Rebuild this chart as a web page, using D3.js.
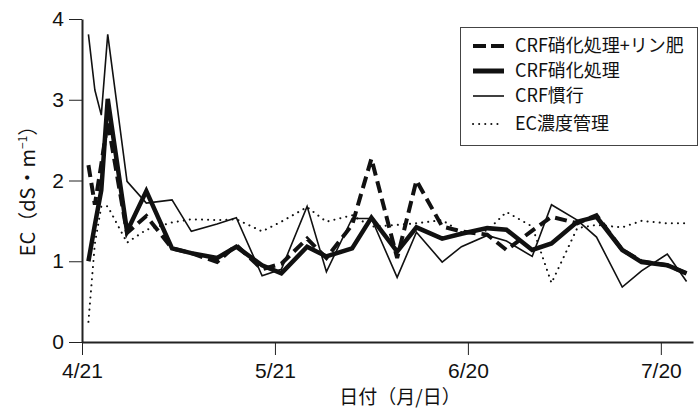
<!DOCTYPE html>
<html>
<head>
<meta charset="utf-8">
<script src="https://cdn.jsdelivr.net/npm/d3@7"></script>
<style>
body { margin: 0; background: #fff; }
text { fill: #111; }
</style>
</head>
<body>
<script>
// sampling dates (2011 assumed, only month/day shown)
const dates = ["4/22","4/23","4/24","4/25","4/28","5/1","5/5","5/8","5/12","5/15",
  "5/19","5/22","5/26","5/29","6/2","6/5","6/9","6/12","6/16","6/19",
  "6/23","6/26","6/30","7/3","7/7","7/10","7/14","7/17","7/21","7/24"];

const crfPhos = [2.19,1.70,2.20,2.73,1.35,1.56,1.16,1.10,0.99,1.20,
  0.90,0.97,1.28,1.04,1.45,2.27,1.04,2.00,1.43,1.37,
  1.33,1.14,1.38,1.55,1.47,1.57,1.14,1.00,0.95,0.85];
const crfNitr = [1.00,1.45,1.88,3.01,1.37,1.87,1.16,1.10,1.04,1.18,
  0.95,0.85,1.18,1.06,1.16,1.54,1.12,1.42,1.28,1.34,
  1.41,1.39,1.14,1.22,1.49,1.55,1.14,0.99,0.95,0.85];
const crfConv = [3.81,3.12,2.81,3.81,1.99,1.72,1.76,1.37,1.46,1.54,
  0.82,0.90,1.68,0.87,1.53,1.53,0.80,1.36,0.99,1.18,
  1.32,1.25,1.06,1.70,1.51,1.30,0.68,0.88,1.09,0.75];
const ecCtrl = [0.25,1.22,1.68,1.68,1.23,1.39,1.48,1.52,1.51,1.52,
  1.37,1.49,1.67,1.49,1.57,1.43,1.45,1.47,1.51,1.36,
  1.38,1.61,1.43,0.73,1.41,1.45,1.42,1.50,1.47,1.47];

const seriesNames = ["CRF硝化処理+リン肥","CRF硝化処理","CRF慣行","EC濃度管理"];
const xTickLabels = ["4/21","5/21","6/20","7/20"];
const yTicks = [0,1,2,3,4];

let width = 700, height = 412;
let parse = d3.timeParse("%Y/%m/%d");
let day = s => parse("2011/" + s);

let svg = d3.select("body").append("svg").attr("width", width).attr("height", height);

let x = d3.scaleTime().domain([day("4/21"), day("7/25")]).range([82, 693]);
let y = d3.scaleLinear().domain([0, 4]).range([342, 19]);

let tickFont = "'Liberation Sans', Arial, sans-serif";
let jpFont = "'Noto Sans CJK JP', sans-serif";

// x axis
let xAxis = svg.append("g").attr("transform", "translate(0," + y(0) + ")")
  .call(d3.axisBottom(x).tickValues(xTickLabels.map(day)).tickFormat(d3.timeFormat("%-m/%-d"))
    .tickSize(13).tickSizeOuter(0));
xAxis.select(".domain").attr("stroke", "#222").attr("stroke-width", 2);
xAxis.selectAll(".tick line").attr("stroke", "#222").attr("stroke-width", 1);
xAxis.selectAll(".tick text").attr("font-family", tickFont).attr("font-size", 21).attr("dy", "0.95em").attr("fill", "#111");

// y axis
let yAxis = svg.append("g").attr("transform", "translate(" + x(day("4/21")) + ",0)")
  .call(d3.axisLeft(y).tickValues(yTicks).tickFormat(d3.format("d")).tickSize(13).tickSizeOuter(0));
yAxis.select(".domain").attr("stroke", "#222").attr("stroke-width", 2);
yAxis.selectAll(".tick line").attr("stroke", "#222").attr("stroke-width", 1);
yAxis.selectAll(".tick text").attr("font-family", tickFont).attr("font-size", 21).attr("x", -18).attr("fill", "#111");

// axis titles
svg.append("text").attr("x", 400).attr("y", 404).attr("text-anchor", "middle")
  .attr("font-family", jpFont).attr("font-size", 19).text("日付（月/日）");

let yl = svg.append("text").attr("transform", "translate(35,186) rotate(-90)")
  .attr("text-anchor", "middle").attr("font-family", jpFont).attr("font-size", 20);
yl.append("tspan").text("EC（dS・m");
yl.append("tspan").attr("dy", -8).attr("font-size", 12).text("−1");
yl.append("tspan").attr("dy", 8).text("）");

// lines
let styles = [
  {vals: crfPhos, w: 4, dash: "12,6", cap: "butt"},
  {vals: crfNitr, w: 4.5, dash: null, cap: "butt"},
  {vals: crfConv, w: 1.6, dash: null, cap: "butt"},
  {vals: ecCtrl, w: 2, dash: "0.1,6", cap: "round"}
];
let line = d3.line().x(d => x(d.date)).y(d => y(d.v));

[3, 2, 1, 0].forEach(function(i){
  let s = styles[i];
  let pts = dates.map((d, j) => ({date: day(d), v: s.vals[j]}));
  svg.append("path").datum(pts)
    .attr("d", line)
    .attr("fill", "none")
    .attr("stroke", "#111")
    .attr("stroke-width", s.w)
    .attr("stroke-linejoin", "miter")
    .attr("stroke-linecap", s.cap)
    .attr("stroke-dasharray", s.dash);
});

// legend
let lg = svg.append("g");
lg.append("rect").attr("x", 460.5).attr("y", 27.5).attr("width", 237).attr("height", 118)
  .attr("fill", "#fff").attr("stroke", "#444").attr("stroke-width", 1);
let rowY = [46, 71, 96, 124];
seriesNames.forEach(function(name, i){
  let s = styles[i];
  lg.append("line").attr("x1", 473).attr("x2", i == 3 ? 500 : 504)
    .attr("y1", rowY[i]).attr("y2", rowY[i])
    .attr("stroke", "#111").attr("stroke-width", i == 3 ? 2 : s.w + (i == 1 ? 0.5 : 0))
    .attr("stroke-dasharray", i == 0 ? "13,5" : s.dash)
    .attr("stroke-linecap", s.cap);
  lg.append("text").attr("x", 515).attr("y", rowY[i]).attr("dy", "0.36em")
    .attr("font-family", jpFont).attr("font-size", 18).text(name);
});
</script>
</body>
</html>
